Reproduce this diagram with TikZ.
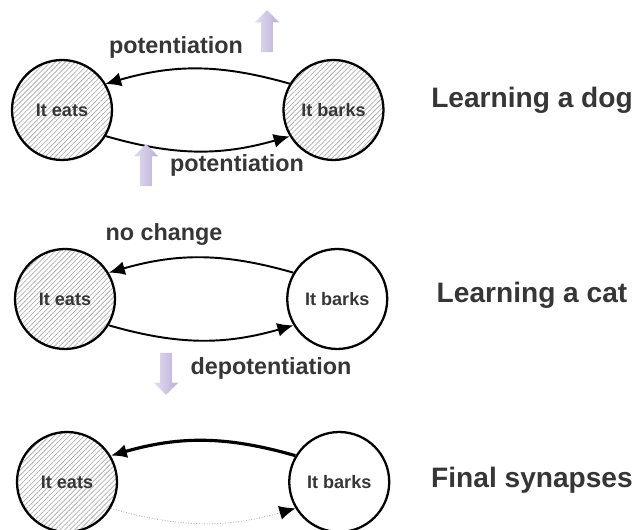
\documentclass[tikz,border=0pt]{standalone}
\usepackage{fontspec}
\setmainfont{Liberation Sans}
\usepackage{xcolor}
\usetikzlibrary{arrows.meta,positioning,patterns.meta,shapes.arrows}

\definecolor{inkgray}{HTML}{363636}
\definecolor{lilac}{HTML}{BBAED8}

\begin{document}
\begin{tikzpicture}[
  x=0.02cm, y=0.02cm,
  node distance=3.4cm,
  neuron/.style={draw, circle, line width=1.3pt, minimum size=2cm, inner sep=0pt, font=\bfseries\fontsize{10.3}{12}\selectfont, text=inkgray},
  hot/.style={neuron, pattern={Lines[angle=45,distance=2pt,line width=0.45pt]}, pattern color=gray!60},
  syn/.style={-{Latex[length=3.2mm,width=2.8mm]}, line width=1.1pt},
  lbl/.style={font=\bfseries\fontsize{13.3}{16}\selectfont, text=inkgray},
  heading/.style={font=\bfseries\fontsize{16}{19}\selectfont, text=inkgray},
  liftarrow/.style={single arrow, left color=lilac!40, right color=lilac, draw=none, inner sep=0.11cm, minimum width=0.46cm, minimum height=0.84cm, single arrow head extend=0.13cm, shape border rotate=90},
  droparrow/.style={liftarrow, shape border rotate=270}
]
\useasboundingbox (0,0) rectangle (635,530);
\clip (0,0) rectangle (635,530);

% learning a dog
\node[hot] (eatsA) at (62,420) {It eats};
\node[hot, right=of eatsA] (barksA) {It barks};
\draw[syn] (barksA.149) to[bend right=16] (eatsA.31);
\draw[syn] (eatsA.-31) to[bend right=16] (barksA.-149);
\node[lbl] (potA) at (176,483) {potentiation};
\node[liftarrow] (upA) at (267,496) {};
\node[lbl] (potB) at (237,365) {potentiation};
\node[liftarrow] (upB) at (146,362) {};
\node[heading] (dog) at (532,430) {Learning a dog};

% learning a cat
\node[hot] (eatsB) at (65,231) {It eats};
\node[neuron, right=of eatsB] (barksB) {It barks};
\draw[syn] (barksB.149) to[bend right=16] (eatsB.31);
\draw[syn] (eatsB.-31) to[bend right=16] (barksB.-149);
\node[lbl] (same) at (164,295) {no change};
\node[droparrow] (downB) at (166,159) {};
\node[lbl] (depot) at (271,162) {depotentiation};
\node[heading] (cat) at (532,235) {Learning a cat};

% final synapses
\node[hot] (eatsC) at (67,48) {It eats};
\node[neuron, right=of eatsC] (barksC) {It barks};
\draw[syn, line width=1.8pt] (barksC.149) to[bend right=16] (eatsC.31);
\draw[-{Latex[length=3.2mm,width=2.8mm,color=black]}, line width=0.5pt, draw=gray!60, densely dotted] (eatsC.-31) to[bend right=16] (barksC.-149);
\node[heading] (final) at (532,50) {Final synapses};
\end{tikzpicture}
\end{document}
